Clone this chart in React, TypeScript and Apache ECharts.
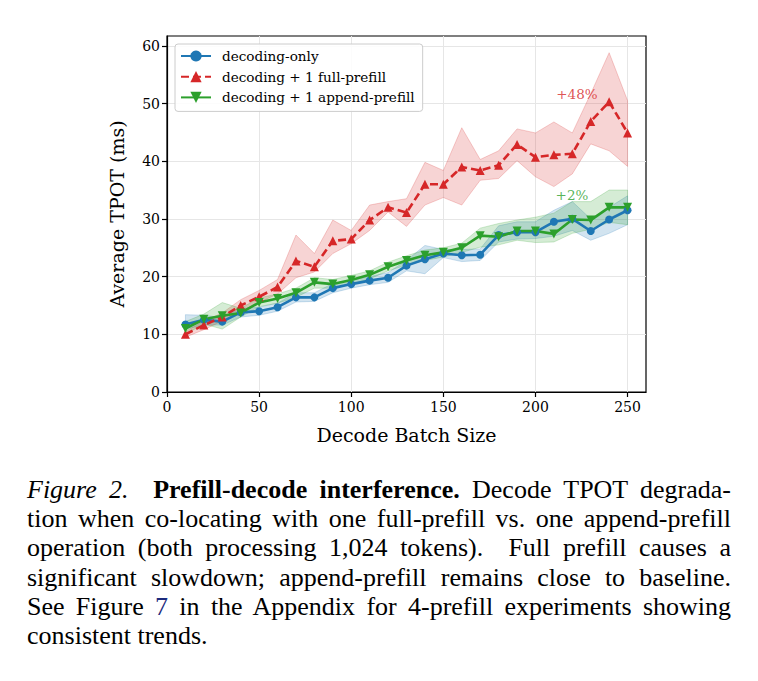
import React, { useEffect, useRef } from "react";
import * as echarts from "echarts";

const batchSizes = [10, 20, 30, 40, 50, 60, 70, 80, 90, 100, 110, 120, 130, 140, 150, 160, 170, 180, 190, 200, 210, 220, 230, 240, 250];

const decodeOnly = [11.7, 12.5, 12.2, 13.8, 14.0, 14.7, 16.4, 16.4, 18.0, 18.7, 19.3, 19.8, 21.9, 23.0, 24.0, 23.7, 23.8, 27.2, 27.7, 27.7, 29.5, 30.0, 27.9, 29.9, 31.5];
const decodeLo = [10.9, 11.6, 11.6, 13.0, 13.3, 14.0, 15.6, 15.7, 17.2, 18.0, 18.6, 19.0, 21.0, 20.5, 23.3, 22.6, 22.8, 26.0, 26.5, 26.6, 27.0, 28.0, 26.3, 27.5, 29.0];
const decodeHi = [13.4, 13.3, 12.9, 14.5, 14.7, 15.4, 17.2, 17.2, 18.8, 19.4, 20.0, 20.7, 22.8, 25.4, 24.7, 24.7, 24.8, 28.8, 29.5, 29.5, 31.5, 33.0, 30.0, 32.0, 34.0];

const fullPrefill = [10.0, 11.6, 13.0, 15.0, 16.5, 18.2, 22.7, 21.7, 26.2, 26.5, 29.8, 32.0, 31.1, 36.0, 36.0, 39.0, 38.4, 39.3, 42.9, 40.7, 41.1, 41.3, 46.9, 50.3, 44.9];
const fullLo = [9.5, 10.8, 12.3, 14.0, 15.5, 17.0, 19.8, 20.8, 24.0, 25.7, 28.0, 31.2, 28.7, 32.4, 33.7, 32.4, 36.7, 37.0, 40.1, 37.3, 35.6, 37.8, 43.0, 41.8, 39.1];
const fullHi = [10.5, 12.3, 13.7, 16.0, 17.6, 19.5, 27.2, 24.0, 29.8, 28.0, 32.4, 33.0, 33.5, 39.8, 38.4, 45.8, 40.3, 41.8, 45.6, 44.9, 46.8, 44.9, 51.7, 58.8, 50.5];

const appendPrefill = [11.0, 12.6, 13.2, 13.7, 15.5, 16.2, 17.2, 19.0, 18.7, 19.4, 20.3, 21.7, 22.8, 23.7, 24.2, 25.0, 27.1, 26.9, 27.9, 27.9, 27.4, 29.9, 29.8, 32.0, 32.0];
const appendLo = [10.0, 11.8, 10.9, 13.0, 14.8, 15.4, 16.4, 18.0, 18.0, 18.7, 19.6, 21.0, 22.0, 22.8, 23.4, 24.2, 25.1, 25.5, 26.3, 25.9, 26.0, 27.5, 28.2, 29.4, 29.0];
const appendHi = [12.2, 13.5, 15.5, 14.5, 16.3, 17.0, 18.0, 19.8, 19.5, 20.2, 21.0, 22.5, 23.6, 24.6, 25.0, 25.8, 28.4, 29.2, 29.8, 30.3, 31.0, 33.0, 33.0, 35.0, 35.0];

const xTicks = [0, 50, 100, 150, 200, 250];
const yTicks = [0, 10, 20, 30, 40, 50, 60];

const seriesNames = ["decoding-only", "decoding + 1 full-prefill", "decoding + 1 append-prefill"];
const annotations = [
  { text: "+48%", x: 222.5, y: 51.7, color: "#d62728" },
  { text: "+2%", x: 219.8, y: 34.1, color: "#2ca02c" },
];

const BLUE = "#1f77b4";
const RED = "#d62728";
const GREEN = "#2ca02c";
const FONT = "'DejaVu Serif', 'Liberation Serif', 'Noto Serif', serif";

function hexToRgba(hex: string, a: number) {
  const n = parseInt(hex.slice(1), 16);
  return `rgba(${(n >> 16) & 255},${(n >> 8) & 255},${n & 255},${a})`;
}

function bandSeries(lo: number[], hi: number[], color: string) {
  const data = batchSizes.map((x, i) => [x, lo[i], hi[i]]);
  return {
    type: "custom",
    silent: true,
    z: 1,
    data,
    encode: { x: 0, y: [1, 2] },
    renderItem: (params: any, api: any) => {
      if (params.dataIndex !== 0) return null;
      const upper = data.map((d) => api.coord([d[0], d[2]]));
      const lower = data.map((d) => api.coord([d[0], d[1]])).reverse();
      return {
        type: "polygon",
        shape: { points: upper.concat(lower) },
        style: { fill: hexToRgba(color, 0.2), stroke: hexToRgba(color, 0.22), lineWidth: 1 },
      };
    },
  };
}

function lineSeries(name: string, values: number[], color: string, symbol: string, size: number, rotate: number, dashed: boolean) {
  return {
    type: "line",
    name,
    z: 5,
    data: batchSizes.map((x, i) => [x, values[i]]),
    symbol,
    symbolSize: size,
    symbolRotate: rotate,
    showAllSymbol: true,
    itemStyle: { color },
    lineStyle: { color, width: 2.6, type: dashed ? [8, 4] : "solid" },
  };
}

export default function App() {
  const ref = useRef<HTMLDivElement>(null);
  useEffect(() => {
    if (!ref.current) return;
    const chart = echarts.init(ref.current, undefined, { renderer: "svg" });
    const option: any = {
      animation: false,
      backgroundColor: "#ffffff",
      grid: {
        left: 167,
        right: 112,
        top: 36,
        bottom: 78,
        show: true,
        borderColor: "#000000",
        borderWidth: 1.2,
        backgroundColor: "transparent",
      },
      xAxis: {
        type: "value",
        min: 0,
        max: 260,
        interval: 50,
        name: "Decode Batch Size",
        nameLocation: "middle",
        nameGap: 33,
        nameTextStyle: { fontFamily: FONT, fontSize: 19, color: "#000" },
        axisLine: { show: true, lineStyle: { color: "#000", width: 1.2 } },
        axisTick: { show: true, length: 5, inside: false, lineStyle: { color: "#000", width: 1.2 }, customValues: xTicks },
        axisLabel: { fontFamily: FONT, fontSize: 14, color: "#000", margin: 8, customValues: xTicks },
        splitLine: { show: true, lineStyle: { color: "#e6e6e6", width: 1 } },
      },
      yAxis: {
        type: "value",
        min: 0,
        max: 61.7,
        interval: 10,
        name: "Average TPOT (ms)",
        nameLocation: "middle",
        nameGap: 41,
        nameTextStyle: { fontFamily: FONT, fontSize: 19, color: "#000" },
        axisLine: { show: true, lineStyle: { color: "#000", width: 1.2 } },
        axisTick: { show: true, length: 5, inside: false, lineStyle: { color: "#000", width: 1.2 }, customValues: yTicks },
        axisLabel: { fontFamily: FONT, fontSize: 14, color: "#000", margin: 7, customValues: yTicks },
        splitLine: { show: true, lineStyle: { color: "#e6e6e6", width: 1 } },
      },
      legend: {
        data: seriesNames,
        orient: "vertical",
        left: 175,
        top: 44,
        itemWidth: 30,
        itemHeight: 14,
        itemGap: 6.7,
        padding: [5, 8, 7, 5],
        backgroundColor: "rgba(255,255,255,0.85)",
        borderColor: "#cccccc",
        borderWidth: 1,
        borderRadius: 3,
        textStyle: { fontFamily: FONT, fontSize: 13.6, color: "#000", padding: [0, 0, 0, 6] },
      },
      series: [
        bandSeries(decodeLo, decodeHi, BLUE),
        bandSeries(fullLo, fullHi, RED),
        bandSeries(appendLo, appendHi, GREEN),
        lineSeries(seriesNames[0], decodeOnly, BLUE, "circle", 8, 0, false),
        lineSeries(seriesNames[1], fullPrefill, RED, "triangle", 9, 0, true),
        lineSeries(seriesNames[2], appendPrefill, GREEN, "triangle", 9, 180, false),
        {
          type: "scatter",
          silent: true,
          z: 6,
          symbolSize: 0,
          data: annotations.map((a) => ({
            value: [a.x, a.y],
            label: {
              show: true,
              position: "inside",
              formatter: a.text,
              color: a.color,
              fontFamily: FONT,
              fontSize: 13.5,
            },
          })),
        },
      ],
    };
    chart.setOption(option);
    return () => chart.dispose();
  }, []);

  const lineStyle: React.CSSProperties = {
    whiteSpace: "nowrap",
    textAlign: "justify",
    textAlignLast: "justify" as any,
    height: 29.2,
  };

  return (
    <div style={{ position: "absolute", left: 0, top: 0, width: 758, height: 681, background: "#fff" }}>
      <div ref={ref} style={{ position: "absolute", left: 0, top: 0, width: 758, height: 470 }} />
      <div
        style={{
          position: "absolute",
          left: 27,
          top: 475,
          width: 704,
          fontFamily: "'Liberation Serif', 'DejaVu Serif', 'Times New Roman', serif",
          fontSize: 26,
          lineHeight: "29.2px",
          color: "#000",
        }}
      >
        <div style={lineStyle}>
          <i>Figure 2.</i>{"\u00a0 "}<b>Prefill-decode interference.</b> Decode TPOT degrada-
        </div>
        <div style={lineStyle}>tion when co-locating with one full-prefill vs. one append-prefill</div>
        <div style={lineStyle}>operation (both processing 1,024 tokens).{"\u00a0 "}Full prefill causes a</div>
        <div style={lineStyle}>significant slowdown; append-prefill remains close to baseline.</div>
        <div style={lineStyle}>
          See Figure <span style={{ color: "#1c2a7c" }}>7</span> in the Appendix for 4-prefill experiments showing
        </div>
        <div style={{ whiteSpace: "nowrap", height: 29.2 }}>consistent trends.</div>
      </div>
    </div>
  );
}
